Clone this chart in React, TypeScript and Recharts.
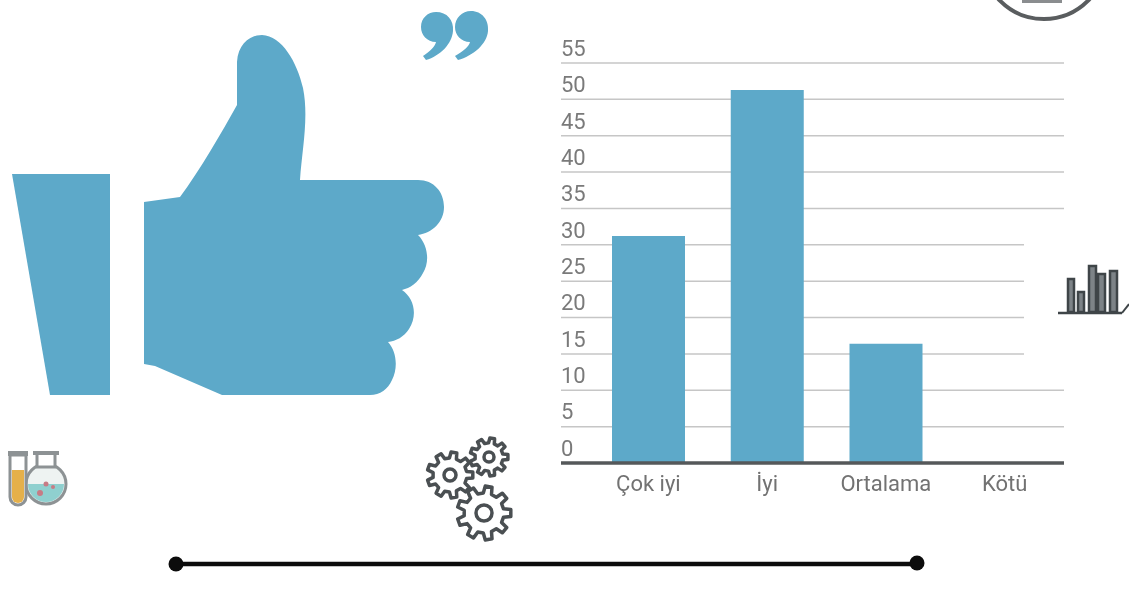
import React from "react"
import { BarChart, Bar, XAxis, YAxis, CartesianGrid } from "recharts"

const categories = ["Çok iyi", "İyi", "Ortalama", "Kötü"]
const scores = [31.2, 51.3, 16.4, 0]
const yTicks = [0, 5, 10, 15, 20, 25, 30, 35, 40, 45, 50, 55]

const chartData = categories.map((name, i) => ({ name, value: scores[i] }))

const BLUE = "#5da9c9"
const DARK = "#4a4f52"

// outline of a small cog, only used for the decoration icons
function gearPath(cx: number, cy: number, r: number, teeth: number) {
  const inner = r * 0.74
  const step = (Math.PI * 2) / teeth
  let d = ""
  for (let i = 0; i < teeth; i++) {
    const a = i * step
    const pts: [number, number][] = [
      [inner, a - step * 0.3],
      [r, a - step * 0.18],
      [r, a + step * 0.18],
      [inner, a + step * 0.3],
    ]
    pts.forEach(([rad, ang], j) => {
      const x = cx + rad * Math.cos(ang)
      const y = cy + rad * Math.sin(ang)
      d += `${i === 0 && j === 0 ? "M" : "L"}${x.toFixed(1)} ${y.toFixed(1)} `
    })
  }
  return d + "Z"
}

function Decorations() {
  return (
    <svg width={1129} height={590} style={{ position: "absolute", left: 0, top: 0 }}>
      {/* thumb up */}
      <path d="M12 174 L110 174 L110 395 L50 395 Z" fill={BLUE} />
      <path
        d="M144 202 L180 197 C200 170 222 132 237 105 L237 62 C238 44 250 35 262 35 C282 36 297 62 303 88 C309 118 302 150 300 180 L418 180 C434 180 444 192 444 207 C444 222 432 233 418 235 C428 245 430 262 423 273 C418 283 410 288 402 290 C414 298 418 315 409 329 C404 337 396 341 388 342 C397 352 398 368 392 380 C388 389 380 395 370 395 L222 395 L155 366 L144 364 Z"
        fill={BLUE}
      />
      {/* quote marks */}
      <path d="M436 12 C447 12 454 20 453 31 C452 44 440 56 426 60 L423 56 C430 51 435 47 436 42 C427 42 421 35 421 27 C421 18 428 12 436 12 Z" fill={BLUE} />
      <path d="M471 11 C482 11 489 20 488 31 C487 44 473 56 458 60 L455 56 C463 51 469 47 470 42 C461 42 455 35 455 27 C455 18 462 11 471 11 Z" fill={BLUE} />

      {/* flask + test tube */}
      <circle cx={46} cy={484} r={20} fill="#eef3f2" stroke="#8d9294" strokeWidth={3} />
      <path d="M28 484 A18 18 0 0 0 64 484 Z" fill="#8fd0cf" />
      <rect x={37} y={453} width={18} height={14} fill="#fff" stroke="#8d9294" strokeWidth={3} />
      <rect x={33} y={451} width={26} height={4} fill="#8d9294" />
      <circle cx={40} cy={493} r={3} fill="#c77b85" />
      <circle cx={46} cy={484} r={2.5} fill="#c77b85" />
      <circle cx={53} cy={487} r={2} fill="#c77b85" />
      <path d="M10 455 L10 497 A8 8 0 0 0 26 497 L26 455 Z" fill="#fff" stroke="#8d9294" strokeWidth={3} />
      <path d="M12 470 L12 497 A6 6 0 0 0 24 497 L24 470 Z" fill="#e5b04a" />
      <rect x={8} y={451} width={20} height={5} fill="#8d9294" />

      {/* gears */}
      <g fill="none" stroke={DARK} strokeWidth={3.5} strokeLinejoin="round">
        <path d={gearPath(450, 475, 23, 9)} />
        <circle cx={450} cy={475} r={6} />
        <path d={gearPath(489, 457, 19, 9)} />
        <circle cx={489} cy={457} r={5} />
        <path d={gearPath(484, 513, 27, 9)} />
        <circle cx={484} cy={513} r={8} />
      </g>

      {/* bottom rule */}
      <line x1={176} y1={564} x2={917} y2={564} stroke="#0c0c0c" strokeWidth={4.5} />
      <circle cx={176} cy={564} r={7.5} fill="#0c0c0c" />
      <circle cx={917} cy={563} r={7.5} fill="#0c0c0c" />

      {/* cut off round icon, top right */}
      <circle cx={1044} cy={-43} r={62} fill="none" stroke="#5a5d5f" strokeWidth={4} />
      <rect x={1022} y={0} width={40} height={3} fill="#8a8d8f" />

      {/* grid lines stop short here */}
      <rect x={1024} y={238} width={42} height={122} fill="#fff" />

      {/* small bars icon */}
      <g fill="#7d8387" stroke="#3f4548" strokeWidth={2.5}>
        <rect x={1068} y={279} width={6} height={33} />
        <rect x={1078} y={292} width={6} height={20} />
        <rect x={1089} y={266} width={7} height={46} />
        <rect x={1098} y={274} width={7} height={38} />
        <rect x={1110} y={271} width={7} height={41} />
      </g>
      <line x1={1058} y1={313} x2={1122} y2={313} stroke="#3f4548" strokeWidth={2.5} />
      <path d="M1122 313 L1129 304" fill="none" stroke="#3f4548" strokeWidth={2} />
    </svg>
  )
}

export default function App() {
  return (
    <div
      style={{
        position: "absolute",
        left: 0,
        top: 0,
        width: 1129,
        height: 590,
        background: "#fff",
        overflow: "hidden",
        fontFamily: "Roboto, sans-serif",
        filter: "blur(0.5px)",
      }}
    >
      <div style={{ position: "absolute", left: 0, top: 0 }}>
        <BarChart
          width={1129}
          height={590}
          data={chartData}
          margin={{ top: 63, right: 65, bottom: 87, left: 500 }}
          barCategoryGap={0}
        >
          <CartesianGrid vertical={false} stroke="#c6c6c6" strokeWidth={1.5} />
          <XAxis
            dataKey="name"
            padding={{ left: 28, right: 0 }}
            height={40}
            stroke="#55585a"
            strokeWidth={3.5}
            tickLine={false}
            tickMargin={6}
            interval={0}
            tick={{ fill: "#727272", fontSize: 22 }}
          />
          <YAxis
            domain={[0, 55]}
            ticks={yTicks}
            width={61}
            axisLine={false}
            tickLine={false}
            tickSize={0}
            tickMargin={0}
            interval={0}
            tick={{ fill: "#7a7a7a", fontSize: 22, textAnchor: "start", dy: -15, dx: 0 }}
          />
          <Bar dataKey="value" fill={BLUE} barSize={73} isAnimationActive={false} />
        </BarChart>
      </div>
      <Decorations />
    </div>
  )
}
